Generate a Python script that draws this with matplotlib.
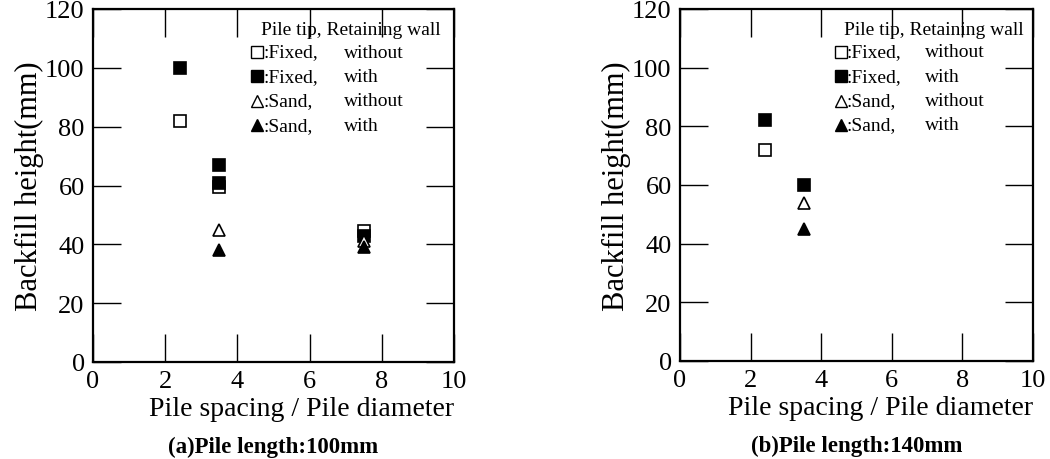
import matplotlib.pyplot as plt

plt.rcParams['font.family'] = ['Liberation Serif', 'DejaVu Serif']

# spacing ratio for each series
x_a = [2.4, 3.5, 7.5]
x_b = [2.4, 3.5]

# backfill height (mm), pile length 100mm
fixed_without_a = [82, 59.5, 44.5]
fixed_with_a = [100, 67, 43]
fixed_with2_a = [None, 61, None]
sand_without_a = [None, 45, 41]
sand_with_a = [None, 38, 39]

# backfill height (mm), pile length 140mm
fixed_without_b = [72, None]
fixed_with_b = [82, 60]
sand_without_b = [None, 54]
sand_with_b = [None, 45]

legend_rows = [(':Fixed,', 'without', 's', 'white'),
               (':Fixed,', 'with', 's', 'black'),
               (':Sand,', 'without', '^', 'white'),
               (':Sand,', 'with', '^', 'black')]

xticks = [0, 2, 4, 6, 8, 10]
yticks = [0, 20, 40, 60, 80, 100, 120]


def pts(xs, ys):
    p = [(x, y) for x, y in zip(xs, ys) if y is not None]
    return [a for a, b in p], [b for a, b in p]


def setup(ax, caption):
    ax.set_xlim(0, 10)
    ax.set_ylim(0, 120)
    ax.set_xticks(xticks)
    ax.set_yticks(yticks)
    ax.tick_params(direction='in', length=20, width=1.0, top=True, right=True,
                   labelsize=19, pad=6)
    for s in ax.spines.values():
        s.set_linewidth(1.6)
    ax.set_xlabel('Pile spacing / Pile diameter', fontsize=20, labelpad=3,
                  loc='right')
    ax.set_ylabel('Backfill height(mm)', fontsize=22, labelpad=1)
    ax.text(0.5, -0.24, caption, transform=ax.transAxes, ha='center', va='center',
            fontsize=16.5, fontweight='bold')
    # legend block
    ax.text(0.465, 0.942, 'Pile tip, Retaining wall', transform=ax.transAxes,
            fontsize=14, va='center')
    for i, (tip, wall, m, fc) in enumerate(legend_rows):
        yy = 0.878 - i * 0.069
        ax.plot([0.455], [yy], marker=m, ms=8, mfc=fc, mec='black', mew=1.0,
                ls='none', transform=ax.transAxes, clip_on=False)
        ax.text(0.472, yy, tip, transform=ax.transAxes, fontsize=14, va='center')
        ax.text(0.695, yy, wall, transform=ax.transAxes, fontsize=14, va='center')


def draw(ax, x, series):
    for ys, m, fc in series:
        xx, yy = pts(x, ys)
        ax.plot(xx, yy, marker=m, ms=9, mfc=fc, mec='black', mew=1.2, ls='none')


fig = plt.figure(figsize=(10.5, 4.6), dpi=100)
ax1 = fig.add_axes([93 / 1050, 1 - 363 / 460, 361 / 1050, 353 / 460])
ax2 = fig.add_axes([680 / 1050, 1 - 362 / 460, 353 / 1050, 352 / 460])

draw(ax1, x_a, [(fixed_without_a, 's', 'white'), (fixed_with_a, 's', 'black'),
                (fixed_with2_a, 's', 'black'), (sand_without_a, '^', 'white'),
                (sand_with_a, '^', 'black')])
draw(ax2, x_b, [(fixed_without_b, 's', 'white'), (fixed_with_b, 's', 'black'),
                (sand_without_b, '^', 'white'), (sand_with_b, '^', 'black')])

setup(ax1, '(a)Pile length:100mm')
setup(ax2, '(b)Pile length:140mm')

fig.savefig('out.png', dpi=100)
